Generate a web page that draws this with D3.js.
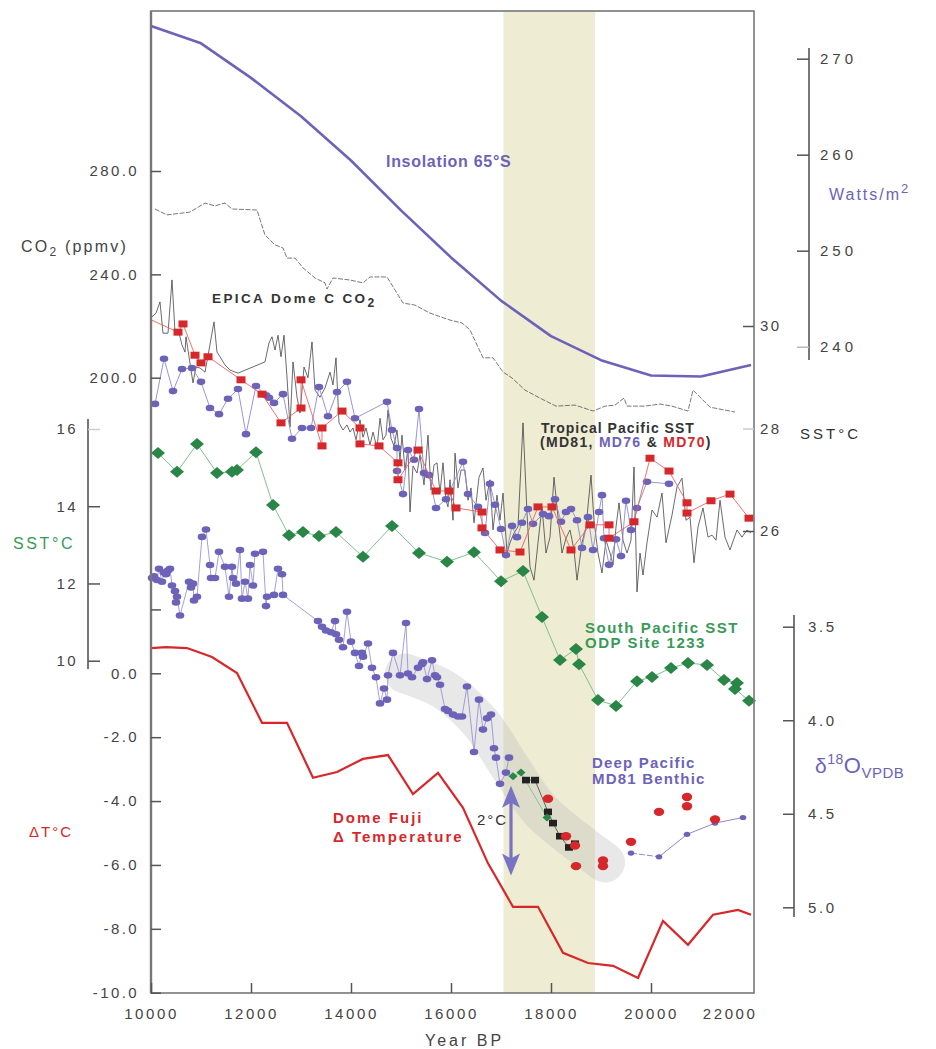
<!DOCTYPE html>
<html><head><meta charset="utf-8">
<script src="https://cdn.jsdelivr.net/npm/d3@7"></script>
<style>
body{margin:0;background:#fff}
svg{display:block}
text{font-family:"Liberation Sans",Arial,Helvetica,sans-serif}
</style>
</head><body>
<svg id="c" width="936" height="1049"></svg>
<script>
// ---------------- DATA ----------------
const xTicks = [10000,12000,14000,16000,18000,20000,22000];
const co2Ticks = [200,240,280];
const dTTicks = [2,0,-2,-4,-6,-8,-10];
const sstSouthTicks = [10,12,14,16];
const sstTropTicks = [26,28,30];
const insolTicks = [240,250,260,270];
const d18OTicks = [3.5,4.0,4.5,5.0];
const band = [17050,18880];

// Insolation 65°S (W/m2)
const insolation = [[10000,273.4],[11000,271.6],[12000,268.0],[13000,264.0],[14000,259.4],[15000,254.2],[16000,249.3],[17000,244.8],[18000,241.1],[19000,238.6],[20000,237.0],[21000,236.9],[22000,238.1]];

// EPICA Dome C CO2 (ppmv)
const epicaCO2 = [[10080,265.3],[10320,263.0],[10780,264.1],[11080,267.6],[11280,266.5],[11480,267.6],[11620,265.3],[12120,264.9],[12280,255.2],[12480,251.4],[12640,250.2],[12720,246.3],[12880,246.3],[13040,242.5],[13280,238.6],[13480,236.7],[13520,234.3],[13640,238.6],[13980,237.8],[14240,236.7],[14380,239.0],[14720,239.0],[15040,228.9],[15280,228.1],[15580,225.0],[15980,222.3],[16220,221.2],[16380,218.5],[16640,207.7],[16840,207.7],[17040,202.2],[17220,199.9],[17480,195.2],[17780,192.1],[18100,189.0],[18480,189.4],[18840,187.1],[19080,189.0],[19280,189.4],[19460,192.1],[19520,189.0],[19880,189.0],[20180,189.8],[20420,189.0],[20740,187.1],[20840,195.2],[21180,188.6],[21680,186.7]];

// Tropical Pacific SST MD81 (black line, °C)
const md81Trop = [[10000,30.16],[10100,30.25],[10180,30.47],[10240,29.86],[10340,29.86],[10420,30.90],[10480,29.88],[10560,29.86],[10620,29.63],[10680,29.49],[10700,29.79],[10760,29.40],[10840,28.89],[10900,29.20],[10980,29.18],[11080,29.10],[11160,29.53],[11260,30.08],[11320,29.49],[11380,29.40],[11480,29.24],[11580,29.14],[11740,29.08],[12280,29.30],[12360,29.67],[12420,29.79],[12480,29.53],[12540,29.82],[12600,29.40],[12660,29.82],[12720,29.00],[12780,28.03],[12840,29.30],[12920,28.61],[12980,28.30],[13060,29.20],[13140,28.99],[13220,29.69],[13280,28.75],[13380,28.61],[13480,28.79],[13580,29.10],[13640,28.85],[13700,29.38],[13760,28.11],[13840,27.97],[13920,28.07],[13980,27.93],[14040,28.01],[14100,27.78],[14180,28.17],[14240,27.83],[14300,28.01],[14380,27.68],[14440,27.93],[14520,27.62],[14580,28.20],[14640,27.78],[14700,27.87],[14740,28.36],[14800,27.81],[14860,27.66],[14920,27.97],[14980,27.39],[15020,27.87],[15080,27.19],[15140,27.62],[15180,26.37],[15240,27.27],[15320,27.13],[15380,27.48],[15460,26.90],[15540,27.87],[15600,26.80],[15660,27.29],[15720,27.33],[15780,26.74],[15840,27.33],[15900,26.60],[15940,26.47],[15980,27.00],[16040,26.21],[16080,27.52],[16140,26.84],[16200,27.19],[16280,27.19],[16340,26.60],[16400,26.84],[16460,26.16],[16520,26.70],[16560,27.05],[16640,27.23],[16700,26.60],[16780,27.00],[16840,26.02],[16920,26.70],[16980,26.21],[17040,26.74],[17120,25.57],[17180,25.77],[17260,25.96],[17340,26.08],[17440,28.11],[17520,26.35],[17580,25.30],[17660,25.04],[17740,25.77],[17820,26.47],[17900,25.57],[17980,25.88],[18060,27.05],[18140,26.27],[18220,25.57],[18300,25.86],[18380,26.02],[18460,25.63],[18520,25.04],[18620,25.77],[18700,26.08],[18800,27.09],[18860,26.21],[18940,25.57],[19020,25.18],[19100,25.82],[19180,25.57],[19240,25.34],[19300,26.08],[19360,26.55],[19440,25.82],[19520,25.57],[19600,25.82],[19660,27.25],[19720,24.81],[19780,25.57],[19840,25.14],[19920,25.77],[20020,26.41],[20120,26.27],[20220,26.74],[20300,25.77],[20420,26.31],[20520,26.86],[20620,27.03],[20700,26.21],[20780,26.27],[20860,25.38],[20940,26.08],[21040,26.45],[21140,25.88],[21220,25.92],[21300,25.82],[21380,26.60],[21480,25.88],[21580,25.63],[21720,26.02],[21820,25.88],[21920,26.02],[22000,25.96]];

// Tropical Pacific SST MD76 (purple dots, °C)
const md76Trop = [[10080,28.48],[10260,29.36],[10440,28.73],[10620,29.16],[10820,29.18],[11000,28.91],[11180,28.40],[11360,28.28],[11540,28.58],[11740,28.77],[11900,27.89],[12100,28.83],[12300,28.65],[12360,28.60],[12460,28.50],[12640,28.67],[12820,27.80],[13020,28.01],[13200,28.01],[13360,28.81],[13540,28.24],[13720,28.71],[13920,28.91],[14080,28.20],[14720,28.52],[14820,27.97],[14920,27.62],[14920,27.17],[15040,26.72],[15140,27.58],[15260,27.39],[15360,28.38],[15460,27.13],[15560,27.09],[15700,26.45],[15900,26.62],[16240,27.35],[16340,26.72],[16540,26.47],[16680,25.96],[16780,26.92],[16880,26.51],[17000,26.04],[17100,25.53],[17220,26.10],[17320,25.88],[17420,26.16],[17540,26.43],[17640,26.14],[17840,26.33],[17960,26.29],[18080,26.62],[18200,26.18],[18300,26.37],[18400,26.43],[18520,26.21],[18620,25.67],[18740,26.27],[18840,25.63],[18960,26.37],[19020,26.70],[19060,25.86],[19160,25.34],[19300,25.84],[19400,25.51],[19500,26.59],[19600,26.02],[19720,26.45],[19920,26.96],[20360,26.92]];

// Tropical Pacific SST MD70 (red squares, °C); first value is the line start only
const md70Trop = [[10000,30.12],[10540,29.88],[10640,30.04],[10880,29.43],[11000,29.28],[11140,29.40],[11800,28.95],[12220,28.67],[12600,28.11],[13000,28.40],[13000,28.95],[13420,27.66],[13420,28.01],[13820,28.34],[14180,28.01],[14180,27.70],[14560,27.66],[14940,27.33],[14940,27.00],[15340,27.58],[15700,26.78],[15960,26.78],[16100,26.45],[16620,26.37],[16620,26.06],[16980,25.63],[17380,25.59],[17740,26.47],[18020,26.47],[18400,25.63],[18780,26.12],[19160,26.12],[19160,25.86],[19660,26.18],[19980,27.42],[20360,27.17],[20720,26.55],[20720,26.35],[21200,26.59],[21580,26.72],[21960,26.25]];

// South Pacific SST ODP 1233 (green diamonds, °C)
const odp1233 = [[10140,15.38],[10520,14.89],[10920,15.61],[11320,14.86],[11620,14.89],[11720,14.94],[12100,15.40],[12440,14.03],[12760,13.25],[13040,13.33],[13360,13.23],[13700,13.33],[14240,12.69],[14820,13.49],[15360,12.79],[15920,12.56],[16460,12.81],[17000,12.06],[17440,12.32],[17820,11.13],[18180,10.02],[18500,10.30],[18560,9.91],[18940,8.98],[19300,8.83],[19720,9.47],[20020,9.58],[20400,9.81],[20740,9.94],[21120,9.89],[21460,9.50],[21720,9.42],[21680,9.27],[21960,8.96]];

// Deep Pacific MD81 benthic d18O (permil VPDB)
const md81Benthic = [[10020,3.24],[10060,3.23],[10120,3.25],[10160,3.19],[10220,3.26],[10260,3.21],[10300,3.22],[10340,3.20],[10380,3.19],[10420,3.28],[10480,3.31],[10500,3.37],[10520,3.34],[10580,3.44],[10760,3.26],[10800,3.29],[10840,3.27],[10860,3.36],[10920,3.34],[11020,3.02],[11100,2.98],[11180,3.17],[11200,3.24],[11280,3.24],[11360,3.10],[11480,3.18],[11560,3.34],[11620,3.18],[11640,3.24],[11700,3.27],[11780,3.09],[11820,3.35],[11880,3.26],[11940,3.35],[11980,3.17],[12040,3.28],[12080,3.11],[12240,3.10],[12300,3.39],[12320,3.34],[12460,3.33],[12540,3.19],[12620,3.22],[12640,3.33],[13340,3.47],[13420,3.50],[13500,3.52],[13600,3.53],[13680,3.47],[13700,3.54],[13760,3.57],[13840,3.61],[13920,3.42],[14000,3.58],[14080,3.64],[14160,3.71],[14220,3.64],[14240,3.66],[14340,3.59],[14420,3.72],[14500,3.77],[14580,3.91],[14660,3.83],[14720,3.89],[14740,3.76],[14840,3.64],[14980,3.76],[15100,3.48],[15140,3.75],[15220,3.77],[15340,3.72],[15420,3.70],[15440,3.69],[15520,3.78],[15620,3.68],[15680,3.76],[15720,3.77],[15780,3.81],[15880,3.94],[15940,3.95],[16040,3.97],[16140,3.98],[16220,3.98],[16320,3.82],[16460,4.17],[16560,3.89],[16640,4.05],[16720,3.99],[16800,3.97],[16860,4.15],[16900,4.20],[16980,4.34],[17100,4.28],[17160,4.20]];
const md81BenthicLate = [[19600,4.71],[20160,4.73],[20720,4.61],[21280,4.55],[21840,4.52]];
// other benthic records (d18O)
const benthicRed = [[17940,4.42],[18300,4.62],[18480,4.67],[18500,4.78],[19040,4.75],[19040,4.78],[19600,4.65],[20160,4.49],[20720,4.41],[20720,4.46],[21280,4.53]];
const benthicBlack = [[17500,4.32],[17680,4.32],[17940,4.49],[18040,4.55],[18180,4.62],[18360,4.68],[18480,4.66]];
const benthicGreen = [[17240,4.30],[17400,4.28],[17920,4.52]];
// shaded trend ribbon (d18O)
const ribbon = [[15080,3.75],[15880,3.84],[16580,4.01],[17180,4.25],[17780,4.48],[18480,4.64],[19080,4.76]];
// 2°C arrow (year, d18O top, d18O bottom)
const arrowSpan = [17200,4.35,4.83];

// Dome Fuji delta T (°C)
const domeFuji = [[10000,0.79],[10300,0.82],[10720,0.79],[11220,0.51],[11720,0.01],[12220,-1.55],[12720,-1.55],[13240,-3.27],[13720,-3.09],[14240,-2.68],[14740,-2.56],[15240,-3.78],[15740,-3.12],[16240,-4.21],[16740,-5.95],[17240,-7.31],[17740,-7.31],[18240,-8.75],[18740,-9.07],[19240,-9.16],[19740,-9.54],[20240,-7.75],[20740,-8.50],[21240,-7.56],[21740,-7.41],[22000,-7.56]];

// ---------------- CHART ----------------
const svg = d3.select("#c");
const L = 151, R = 754, T = 11, B = 993;
const x = d3.scaleLinear().domain([10000,22000]).range([151,751]);
const yCO2 = d3.scaleLinear().domain([200,280]).range([377.7,171]);
const yDT = d3.scaleLinear().domain([0,-10]).range([673.3,992.7]);
const ySS = d3.scaleLinear().domain([10,16]).range([660.7,429]);
const yTS = d3.scaleLinear().domain([26,30]).range([531,326]);
const yIns = d3.scaleLinear().domain([240,270]).range([346.7,58.7]);
const yO = d3.scaleLinear().domain([3.5,5.0]).range([626.7,907.3]);

const PURPLE = "#6c63b9", PURPLE_L = "#8f88cf", RED = "#d6282b", RED_L = "#e8625f",
      GREEN = "#2a8646", GREEN_L = "#7fc08e", GREEN_T = "#399a58", TXT = "#444";

const line = ys => d3.line().defined(d => d != null).x(d => x(d[0])).y(d => ys(d[1]));

// yellow band
svg.append("rect").attr("x", x(band[0])).attr("y", T)
  .attr("width", x(band[1]) - x(band[0])).attr("height", B - T).attr("fill", "#eeecd2");

// gray ribbon
svg.append("path").datum(ribbon)
  .attr("d", line(yO).curve(d3.curveCatmullRom))
  .attr("fill","none").attr("stroke","#bdbdbd").attr("stroke-opacity",0.35)
  .attr("stroke-width",40).attr("stroke-linecap","round").attr("stroke-linejoin","round");

// EPICA CO2
svg.append("path").datum(epicaCO2).attr("d", line(yCO2))
  .attr("fill","none").attr("stroke","#555").attr("stroke-width",0.8).attr("stroke-dasharray","5,1.5");

// Insolation
svg.append("path").datum(insolation).attr("d", line(yIns))
  .attr("fill","none").attr("stroke",PURPLE).attr("stroke-width",2.6).attr("stroke-linejoin","round");

// MD81 tropical black line
svg.append("path").datum(md81Trop).attr("d", line(yTS))
  .attr("fill","none").attr("stroke","#3a3a3a").attr("stroke-width",0.75);

// MD76 purple
svg.append("path").datum(md76Trop).attr("d", line(yTS))
  .attr("fill","none").attr("stroke",PURPLE_L).attr("stroke-width",0.9);
svg.append("g").selectAll("ellipse").data(md76Trop).join("ellipse")
  .attr("cx", d => x(d[0])).attr("cy", d => yTS(d[1])).attr("rx",4.3).attr("ry",3.3).attr("fill",PURPLE);

// MD70 red
svg.append("path").datum(md70Trop).attr("d", line(yTS))
  .attr("fill","none").attr("stroke",RED_L).attr("stroke-width",0.9);
svg.append("g").selectAll("rect").data(md70Trop.slice(1)).join("rect")
  .attr("x", d => x(d[0]) - 4.5).attr("y", d => yTS(d[1]) - 3.5).attr("width",9).attr("height",7).attr("fill",RED);

// ODP 1233 green
const diamond = (cx, cy, w, h) => `M${cx},${cy-h}L${cx+w},${cy}L${cx},${cy+h}L${cx-w},${cy}Z`;
svg.append("path").datum(odp1233).attr("d", line(ySS))
  .attr("fill","none").attr("stroke",GREEN_L).attr("stroke-width",1);
svg.append("g").selectAll("path").data(odp1233).join("path")
  .attr("d", d => diamond(x(d[0]), ySS(d[1]), 7, 6)).attr("fill",GREEN);

// Benthic MD81
svg.append("path").datum(md81Benthic).attr("d", line(yO))
  .attr("fill","none").attr("stroke",PURPLE_L).attr("stroke-width",0.8);
svg.append("g").selectAll("ellipse").data(md81Benthic).join("ellipse")
  .attr("cx", d => x(d[0])).attr("cy", d => yO(d[1])).attr("rx",4.3).attr("ry",3.3).attr("fill",PURPLE);
svg.append("path").datum(md81BenthicLate.slice(0,2)).attr("d", line(yO))
  .attr("fill","none").attr("stroke",PURPLE_L).attr("stroke-width",1).attr("stroke-dasharray","6,2");
svg.append("path").datum(md81BenthicLate.slice(1)).attr("d", line(yO))
  .attr("fill","none").attr("stroke",PURPLE_L).attr("stroke-width",1);
svg.append("g").selectAll("ellipse").data(md81BenthicLate).join("ellipse")
  .attr("cx", d => x(d[0])).attr("cy", d => yO(d[1])).attr("rx",3.3).attr("ry",2.6).attr("fill",PURPLE);

// other benthic
svg.append("path").datum(benthicGreen).attr("d", line(yO))
  .attr("fill","none").attr("stroke",GREEN_L).attr("stroke-width",0.9);
svg.append("path").datum(benthicBlack).attr("d", line(yO))
  .attr("fill","none").attr("stroke","#555").attr("stroke-width",0.9);
svg.append("g").selectAll("rect").data(benthicBlack).join("rect")
  .attr("x", d => x(d[0]) - 4).attr("y", d => yO(d[1]) - 3.3).attr("width",8).attr("height",6.6).attr("fill","#222");
svg.append("g").selectAll("path").data(benthicGreen).join("path")
  .attr("d", d => diamond(x(d[0]), yO(d[1]), 4.5, 4)).attr("fill",GREEN);
svg.append("g").selectAll("ellipse").data(benthicRed).join("ellipse")
  .attr("cx", d => x(d[0])).attr("cy", d => yO(d[1])).attr("rx",5.2).attr("ry",4.2).attr("fill",RED);

// Dome Fuji
svg.append("path").datum(domeFuji).attr("d", line(yDT))
  .attr("fill","none").attr("stroke",RED).attr("stroke-width",2.2).attr("stroke-linejoin","miter");

// 2°C arrow
{
  const ax = x(arrowSpan[0]), y1 = yO(arrowSpan[1]), y2 = yO(arrowSpan[2]);
  svg.append("line").attr("x1",ax).attr("x2",ax).attr("y1",y1+14).attr("y2",y2-14)
    .attr("stroke","#7a72c2").attr("stroke-width",3.2);
  svg.append("path").attr("d",`M${ax},${y1}L${ax+9},${y1+22}L${ax},${y1+17}L${ax-9},${y1+22}Z`).attr("fill","#7a72c2");
  svg.append("path").attr("d",`M${ax},${y2}L${ax+9},${y2-22}L${ax},${y2-17}L${ax-9},${y2-22}Z`).attr("fill","#7a72c2");
}

// frame
svg.append("rect").attr("x",L).attr("y",T).attr("width",R-L).attr("height",B-T)
  .attr("fill","none").attr("stroke","#777").attr("stroke-width",1.6);
svg.append("line").attr("x1",L).attr("x2",L).attr("y1",T).attr("y2",B).attr("stroke","#777").attr("stroke-width",2.4);

// axes
function styleAxis(g, ls){
  g.select(".domain").remove();
  g.selectAll(".tick line").attr("stroke","#555").attr("stroke-width",1.5);
  g.selectAll(".tick text").attr("fill",TXT).attr("font-size",15)
    .attr("font-family",'"Liberation Sans",Arial,sans-serif').attr("letter-spacing",ls);
}
const f1 = d => d.toFixed(1);
svg.append("g").attr("transform",`translate(0,${B})`)
  .call(d3.axisBottom(x).tickValues(xTicks).tickSize(-10).tickPadding(15).tickFormat(d => String(d)))
  .call(g => styleAxis(g, 2.6))
  .call(g => {
    g.selectAll(".tick").filter(d => d === 22000).select("line").remove();
    g.selectAll(".tick").filter(d => d === 22000).select("text").attr("text-anchor","end").attr("x",6);
  });
svg.append("g").attr("transform",`translate(${L},0)`)
  .call(d3.axisLeft(yCO2).tickValues(co2Ticks).tickSize(-10).tickPadding(12).tickFormat(f1))
  .call(g => styleAxis(g, 2.4));
svg.append("g").attr("transform",`translate(${L},0)`)
  .call(d3.axisLeft(yDT).tickValues(dTTicks).tickSize(-10).tickPadding(12).tickFormat(d => d === 2 ? "" : f1(d)))
  .call(g => styleAxis(g, 2.4));
// green SST axis
svg.append("line").attr("x1",88).attr("x2",88).attr("y1",419).attr("y2",669).attr("stroke","#555").attr("stroke-width",1.6);
svg.append("g").attr("transform",`translate(88,0)`)
  .call(d3.axisLeft(ySS).tickValues(sstSouthTicks).tickSize(-12).tickPadding(10).tickFormat(d => String(d)))
  .call(g => styleAxis(g, 2.4))
  .call(g => g.selectAll(".tick").filter(d => d === 16).select("line").attr("stroke","#ccc"));
// right tropical SST axis
svg.append("g").attr("transform",`translate(${R},0)`)
  .call(d3.axisRight(yTS).tickValues(sstTropTicks).tickSize(-11).tickPadding(6).tickFormat(d => String(d)))
  .call(g => styleAxis(g, 2.4))
  .call(g => g.selectAll(".tick").filter(d => d === 28).select("line").attr("stroke","#ccc"));
// Watts axis
svg.append("line").attr("x1",809).attr("x2",809).attr("y1",48).attr("y2",360).attr("stroke","#555").attr("stroke-width",1.6);
svg.append("g").attr("transform",`translate(809,0)`)
  .call(d3.axisRight(yIns).tickValues(insolTicks).tickSize(-12).tickPadding(11).tickFormat(d => String(d)))
  .call(g => styleAxis(g, 4))
  .call(g => g.selectAll(".tick").filter(d => d === 240).select("line").attr("stroke","#bbb"));
// d18O axis
svg.append("line").attr("x1",794).attr("x2",794).attr("y1",615).attr("y2",917).attr("stroke","#555").attr("stroke-width",1.6);
svg.append("g").attr("transform",`translate(794,0)`)
  .call(d3.axisRight(yO).tickValues(d18OTicks).tickSize(-11).tickPadding(14).tickFormat(f1))
  .call(g => styleAxis(g, 2.6));

// labels
function txt(xp, yp, s, o = {}){
  const t = svg.append("text").attr("x",xp).attr("y",yp)
    .attr("font-size", o.size || 15).attr("fill", o.fill || TXT)
    .attr("font-weight", o.bold ? "bold" : "normal")
    .attr("letter-spacing", o.ls == null ? 1 : o.ls)
    .attr("text-anchor", o.anchor || "start");
  if (typeof s === "string") t.text(s);
  else s.forEach(p => {
    const ts = t.append("tspan").text(p.t);
    if (p.fill) ts.attr("fill", p.fill);
    if (p.dy) ts.attr("dy", p.dy);
    if (p.size) ts.attr("font-size", p.size);
  });
  return t;
}
txt(386,167,"Insolation 65°S",{bold:true,size:16,fill:PURPLE,ls:0.7});
txt(212,303,[{t:"EPICA Dome C CO"},{t:"2",dy:4,size:12}],{bold:true,size:13.5,fill:"#333",ls:2.4});
txt(541,433,"Tropical Pacific SST",{bold:true,size:14,fill:"#333",ls:1.0});
txt(540,447,[{t:"(MD81, "},{t:"MD76",fill:PURPLE},{t:" & "},{t:"MD70",fill:RED},{t:")"}],{bold:true,size:14,fill:"#333",ls:1.3});
txt(585,633,"South Pacific SST",{bold:true,size:15,fill:GREEN_T,ls:1.5});
txt(585,648,"ODP Site 1233",{bold:true,size:15,fill:GREEN_T,ls:1.5});
txt(592,768,"Deep Pacific",{bold:true,size:15,fill:PURPLE,ls:1.2});
txt(592,784,"MD81 Benthic",{bold:true,size:15,fill:PURPLE,ls:1.2});
txt(333,823,"Dome Fuji",{bold:true,size:15,fill:RED,ls:2});
txt(333,842,"Δ Temperature",{bold:true,size:15,fill:RED,ls:2});
txt(477,825,"2°C",{size:15,fill:"#333",ls:2});
txt(425,1046,"Year BP",{size:16,fill:TXT,ls:3});
txt(21,252,[{t:"CO"},{t:"2",dy:4,size:12},{t:" (ppmv)",dy:-4}],{size:16,fill:TXT,ls:2.2});
txt(13,549,"SST°C",{size:16,fill:GREEN_T,ls:2.6});
txt(29,837,"ΔT°C",{size:15,fill:RED,ls:2});
txt(800,439,"SST°C",{size:15,fill:"#333",ls:3});
txt(829,200,[{t:"Watts/m"},{t:"2",dy:-7,size:13}],{size:16,fill:PURPLE,ls:2});
txt(815,773,[{t:"δ",size:21},{t:"18",dy:-9,size:14},{t:"O",dy:9,size:22},{t:"VPDB",dy:5,size:15}],{fill:PURPLE,ls:0.5});
</script>
</body></html>
